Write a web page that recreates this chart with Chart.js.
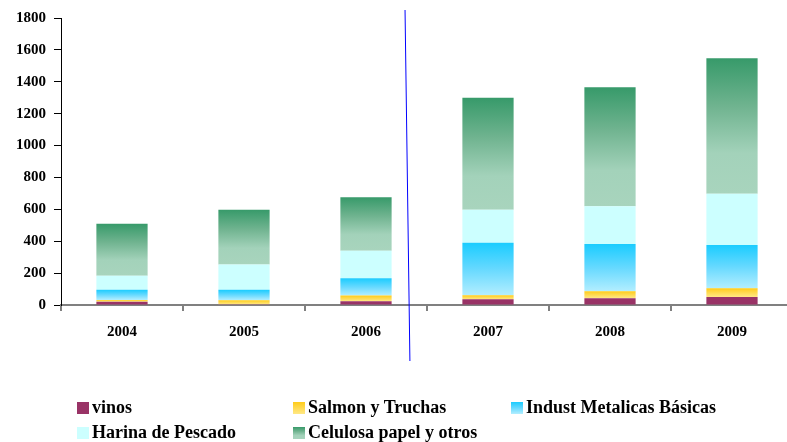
<!DOCTYPE html>
<html>
<head>
<meta charset="utf-8">
<script src="https://cdn.jsdelivr.net/npm/chart.js@4"></script>
<style>
  body { margin: 0; overflow: hidden; background: #fff; }
  #wrap { position: relative; width: 793px; height: 442px; }
  #legend { position: absolute; left: 77px; top: 397px; width: 700px;
    font: bold 18px "Liberation Serif", serif; color: #000; }
  .item { position: absolute; white-space: nowrap; }
  .box { display: inline-block; width: 12px; height: 12px; margin-right: 3px; vertical-align: -1px; }
</style>
</head>
<body>
<div id="wrap">
  <canvas id="myChart" width="793" height="442"></canvas>
  <div id="legend"></div>
</div>
<script>
const years = ["2004", "2005", "2006", "2007", "2008", "2009"];
const vinos = [20, 4, 24, 36, 42, 50];
const salmon = [12, 26, 35, 25, 44, 55];
const indust = [64, 65, 109, 330, 296, 272];
const harina = [88, 159, 173, 207, 238, 320];
const celulosa = [326, 344, 335, 702, 745, 850];
const yTicks = [0, 200, 400, 600, 800, 1000, 1200, 1400, 1600, 1800];

const series = [
  { label: "vinos", data: vinos, stops: [[0, "#993366"], [1, "#993366"]] },
  { label: "Salmon y Truchas", data: salmon, stops: [[0, "#FFCC1A"], [1, "#FFE886"]] },
  { label: "Indust Metalicas Básicas", data: indust, stops: [[0, "#1ACCFF"], [0.5, "#66D9FF"], [1, "#B3EEFF"]] },
  { label: "Harina de Pescado", data: harina, stops: [[0, "#CCFFFF"], [1, "#CCFFFF"]] },
  { label: "Celulosa papel y otros", data: celulosa, stops: [[0, "#379A6A"], [0.35, "#6FB38F"], [0.7, "#A3D2BA"], [1, "#A8D4BD"]] },
];

function segmentFill(context) {
  const chart = context.chart;
  const s = series[context.datasetIndex];
  if (context.type !== "data" || !chart.chartArea) return s.stops[0][1];
  const i = context.dataIndex;
  let base = 0;
  for (let k = 0; k < context.datasetIndex; k++) base += series[k].data[i];
  const y = chart.scales.y;
  const yTop = y.getPixelForValue(base + s.data[i]);
  const yBot = y.getPixelForValue(base);
  if (yBot - yTop < 1) return s.stops[0][1];
  const g = chart.ctx.createLinearGradient(0, yTop, 0, yBot);
  s.stops.forEach(st => g.addColorStop(st[0], st[1]));
  return g;
}

const divider = {
  id: "divider",
  afterDraw(chart) {
    const x = chart.scales.x;
    const a = chart.chartArea;
    const x2 = x.getPixelForValue(2), x3 = x.getPixelForValue(3);
    const ctx = chart.ctx;
    ctx.save();
    ctx.strokeStyle = "#0000FF";
    ctx.lineWidth = 1;
    ctx.beginPath();
    ctx.moveTo(x2 + 0.32 * (x3 - x2), a.top - 8);
    ctx.lineTo(x2 + 0.36 * (x3 - x2), a.bottom + 56);
    ctx.stroke();
    ctx.restore();
  },
};

const ctx = document.getElementById("myChart").getContext("2d");
const myChart = new Chart(ctx, {
  type: "bar",
  data: {
    labels: years,
    datasets: series.map(s => ({
      label: s.label,
      data: s.data,
      backgroundColor: segmentFill,
      borderWidth: 0,
      categoryPercentage: 1,
      barPercentage: 0.42,
    })),
  },
  options: {
    responsive: false,
    animation: false,
    layout: { padding: { left: 8, top: 18, right: 0, bottom: 89 } },
    plugins: { legend: { display: false }, tooltip: { enabled: false } },
    scales: {
      x: {
        stacked: true,
        grid: { offset: true, drawOnChartArea: false, tickLength: 6, color: "#808080", lineWidth: 2 },
        border: { display: true, color: "#808080", width: 2 },
        ticks: { color: "#000", padding: 12, font: { family: "Liberation Serif", size: 15, weight: "bold" } },
      },
      y: {
        stacked: true,
        min: 0,
        max: 1800,
        afterBuildTicks: axis => { axis.ticks = yTicks.map(v => ({ value: v })); },
        grid: { drawOnChartArea: false, tickLength: 7, color: "#000" },
        border: { display: true, color: "#000", width: 1 },
        ticks: {
          color: "#000", padding: 8,
          font: { family: "Liberation Serif", size: 15, weight: "bold" },
          callback: v => String(v),
        },
      },
    },
  },
  plugins: [divider],
});

const legend = document.getElementById("legend");
const cols = [0, 216, 434];
series.forEach((s, i) => {
  const el = document.createElement("div");
  el.className = "item";
  el.style.left = cols[i % 3] + "px";
  el.style.top = Math.floor(i / 3) * 25 + "px";
  const box = document.createElement("span");
  box.className = "box";
  box.style.background = "linear-gradient(" + s.stops.map(st => st[1] + " " + st[0] * 100 + "%").join(", ") + ")";
  el.appendChild(box);
  el.appendChild(document.createTextNode(s.label));
  legend.appendChild(el);
});
</script>
</body>
</html>
